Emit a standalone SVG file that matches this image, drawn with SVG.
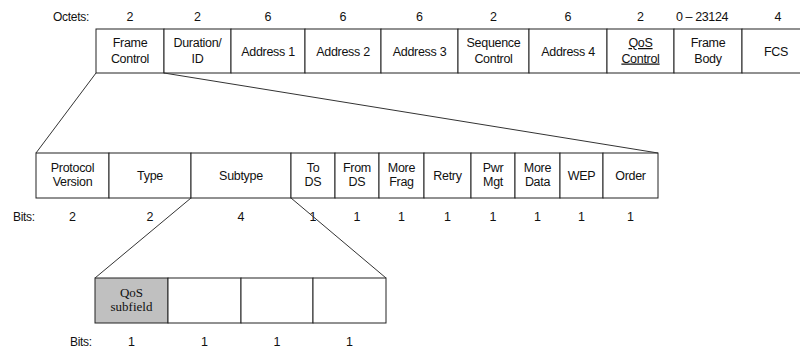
<svg xmlns="http://www.w3.org/2000/svg" width="800" height="350" viewBox="0 0 800 350">
<style>
.box{fill:#fff;stroke:#222;stroke-width:1}
.grey{fill:#c0c0c0;stroke:#222;stroke-width:1}
.t{font-family:"Liberation Sans",Arial,sans-serif;font-size:12.5px;fill:#111;text-anchor:middle;letter-spacing:-0.3px}
.n{font-family:"Liberation Sans",Arial,sans-serif;font-size:12.5px;fill:#111;text-anchor:middle}
.lab{font-family:"Liberation Sans",Arial,sans-serif;font-size:12px;fill:#111;letter-spacing:-0.3px}
.s{font-family:"Liberation Serif","Times New Roman",serif;font-size:13px;fill:#111;text-anchor:middle}
.ln{stroke:#333;stroke-width:1;fill:none}
</style>
<rect width="800" height="350" fill="#fff"/>

<!-- Octets row -->
<text class="lab" x="89" y="21" text-anchor="end">Octets:</text>
<g class="n">
<text x="130" y="21">2</text>
<text x="197.5" y="21">2</text>
<text x="268" y="21">6</text>
<text x="343" y="21">6</text>
<text x="419.5" y="21">6</text>
<text x="493.5" y="21">2</text>
<text x="568" y="21">6</text>
<text x="640.5" y="21">2</text>
<text x="702" y="21" letter-spacing="-0.4">0 ‒ 23124</text>
<text x="778" y="21">4</text>
</g>

<!-- Row 1 -->
<g id="frame-control"><rect class="box" x="96" y="29" width="68" height="44"/><text class="t" x="130" y="47">Frame</text><text class="t" x="130" y="62.5">Control</text></g>
<g id="duration-id"><rect class="box" x="164" y="29" width="67" height="44"/><text class="t" x="197.5" y="47">Duration/</text><text class="t" x="197.5" y="62.5">ID</text></g>
<g id="address1"><rect class="box" x="231" y="29" width="74" height="44"/><text class="t" x="268" y="55.5">Address 1</text></g>
<g id="address2"><rect class="box" x="305" y="29" width="76" height="44"/><text class="t" x="343" y="55.5">Address 2</text></g>
<g id="address3"><rect class="box" x="381" y="29" width="77" height="44"/><text class="t" x="419.5" y="55.5">Address 3</text></g>
<g id="sequence-control"><rect class="box" x="458" y="29" width="71" height="44"/><text class="t" x="493.5" y="47">Sequence</text><text class="t" x="493.5" y="62.5">Control</text></g>
<g id="address4"><rect class="box" x="529" y="29" width="78" height="44"/><text class="t" x="568" y="55.5">Address 4</text></g>
<g id="qos-control"><rect class="box" x="607" y="29" width="67" height="44"/><text class="t" x="640.5" y="47" text-decoration="underline">QoS</text><text class="t" x="640.5" y="62.5" text-decoration="underline">Control</text></g>
<g id="frame-body"><rect class="box" x="674" y="29" width="68" height="44"/><text class="t" x="708" y="47">Frame</text><text class="t" x="708" y="62.5">Body</text></g>
<g id="fcs"><rect class="box" x="742" y="29" width="70" height="44"/><text class="t" x="776" y="55.5">FCS</text></g>

<!-- Row 2 -->
<g id="protocol-version"><rect class="box" x="36" y="153" width="73" height="45"/><text class="t" x="72.5" y="172">Protocol</text><text class="t" x="72.5" y="185.5">Version</text></g>
<g id="type"><rect class="box" x="109" y="153" width="82" height="45"/><text class="t" x="150" y="180">Type</text></g>
<g id="subtype"><rect class="box" x="191" y="153" width="100" height="45"/><text class="t" x="241" y="180">Subtype</text></g>
<g id="to-ds"><rect class="box" x="291" y="153" width="44" height="45"/><text class="t" x="313" y="172">To</text><text class="t" x="313" y="185.5">DS</text></g>
<g id="from-ds"><rect class="box" x="335" y="153" width="44" height="45"/><text class="t" x="357" y="172">From</text><text class="t" x="357" y="185.5">DS</text></g>
<g id="more-frag"><rect class="box" x="379" y="153" width="45" height="45"/><text class="t" x="401.5" y="172">More</text><text class="t" x="401.5" y="185.5">Frag</text></g>
<g id="retry"><rect class="box" x="424" y="153" width="47" height="45"/><text class="t" x="447.5" y="180">Retry</text></g>
<g id="pwr-mgt"><rect class="box" x="471" y="153" width="44" height="45"/><text class="t" x="493" y="172">Pwr</text><text class="t" x="493" y="185.5">Mgt</text></g>
<g id="more-data"><rect class="box" x="515" y="153" width="45" height="45"/><text class="t" x="537.5" y="172">More</text><text class="t" x="537.5" y="185.5">Data</text></g>
<g id="wep"><rect class="box" x="560" y="153" width="43" height="45"/><text class="t" x="581.5" y="180">WEP</text></g>
<g id="order"><rect class="box" x="603" y="153" width="55" height="45"/><text class="t" x="630.5" y="180">Order</text></g>

<text class="lab" x="13" y="221">Bits:</text>
<g class="n">
<text x="72.5" y="221">2</text>
<text x="150" y="221">2</text>
<text x="241" y="221">4</text>
<text x="313" y="221">1</text>
<text x="357" y="221">1</text>
<text x="401.5" y="221">1</text>
<text x="447.5" y="221">1</text>
<text x="493" y="221">1</text>
<text x="537.5" y="221">1</text>
<text x="581.5" y="221">1</text>
<text x="630.5" y="221">1</text>
</g>

<!-- Row 3 -->
<g id="qos-subfield"><rect class="grey" x="95" y="278" width="73" height="45"/><text class="s" x="131.5" y="297">QoS</text><text class="s" x="131.5" y="310.5">subfield</text></g>
<g id="bit2"><rect class="box" x="168" y="278" width="73" height="45"/></g>
<g id="bit3"><rect class="box" x="241" y="278" width="72" height="45"/></g>
<g id="bit4"><rect class="box" x="313" y="278" width="73" height="45"/></g>

<text class="lab" x="70" y="346">Bits:</text>
<g class="n">
<text x="131.5" y="346">1</text>
<text x="204.5" y="346">1</text>
<text x="277" y="346">1</text>
<text x="349.5" y="346">1</text>
</g>

<!-- Connectors -->
<g id="connectors" class="ln">
<line x1="96" y1="73" x2="36" y2="153"/>
<line x1="164" y1="73" x2="658" y2="153"/>
<line x1="191" y1="198" x2="95" y2="278"/>
<line x1="291" y1="198" x2="386" y2="278"/>
</g>
</svg>
